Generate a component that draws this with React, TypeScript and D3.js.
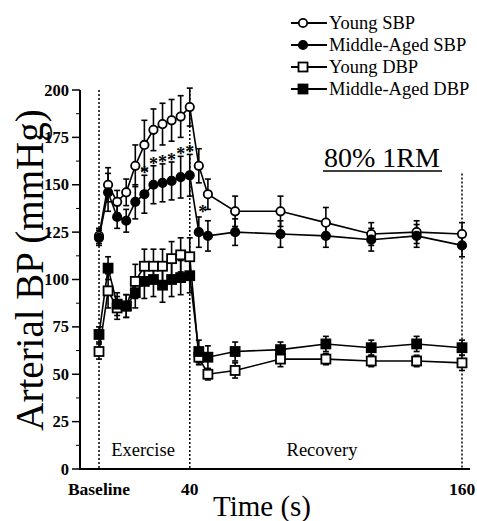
import React from "react";
import * as d3 from "d3";

const times = [0, 4, 8, 12, 16, 20, 24, 28, 32, 36, 40, 44, 48, 60, 80, 100, 120, 140, 160];

const youngSBP = [123, 150, 141, 146, 160, 171, 179, 182, 184, 186, 191, 160, 145, 136, 136, 130, 124, 125, 124];
const youngSBPErr = [4, 9, 6, 7, 11, 13, 11, 11, 11, 11, 10, 9, 8, 8, 8, 8, 6, 6, 6];

const midSBP = [122, 146, 133, 131, 141, 145, 150, 151, 152, 154, 155, 125, 123, 125, 124, 123, 121, 123, 118];
const midSBPErr = [4, 10, 6, 6, 9, 10, 10, 10, 10, 11, 11, 8, 8, 7, 7, 6, 6, 6, 6];

const youngDBP = [62, 94, 85, 86, 99, 107, 107, 107, 111, 113, 112, 59, 50, 52, 58, 58, 57, 57, 56];
const youngDBPErr = [4, 9, 6, 6, 9, 9, 9, 9, 9, 9, 10, 4, 3, 4, 4, 3, 3, 3, 4];

const midDBP = [71, 106, 87, 86, 93, 99, 100, 97, 100, 101, 102, 62, 59, 62, 63, 66, 64, 66, 64];
const midDBPErr = [4, 6, 6, 6, 8, 9, 9, 9, 9, 9, 9, 6, 6, 5, 4, 4, 4, 4, 4];

const starTimes = [20, 24, 28, 32, 36, 40, 44];

const yTicks = [0, 25, 50, 75, 100, 125, 150, 175, 200];
const legendLabels = ["Young SBP", "Middle-Aged SBP", "Young DBP", "Middle-Aged DBP"];

const FONT = "'Liberation Serif', 'Times New Roman', serif";

export default function App() {
  const W = 477, H = 521;
  const x = d3.scaleLinear().domain([0, 160]).range([99, 462]);
  const y = d3.scaleLinear().domain([0, 200]).range([469, 90]);
  const line = d3.line<number>().x((_, i) => x(times[i])).y((v) => y(v));

  const series = [
    { vals: youngSBP, err: youngSBPErr, shape: "circle", fill: "white" },
    { vals: midSBP, err: midSBPErr, shape: "circle", fill: "black" },
    { vals: youngDBP, err: youngDBPErr, shape: "square", fill: "white" },
    { vals: midDBP, err: midDBPErr, shape: "square", fill: "black" },
  ];

  const marker = (shape: string, fill: string, cx: number, cy: number, key: string) =>
    shape === "circle" ? (
      <circle key={key} cx={cx} cy={cy} r={4.2} fill={fill} stroke="black" strokeWidth={1.8} />
    ) : (
      <rect key={key} x={cx - 4.5} y={cy - 4.5} width={9} height={9} fill={fill} stroke="black" strokeWidth={1.8} />
    );

  const minorY = d3.range(0, 200, 12.5).filter((v) => v % 25 !== 0);

  return (
    <svg width={W} height={H} style={{ display: "block", position: "absolute", left: 0, top: 0, background: "white" }} fontFamily={FONT}>
      <rect width={W} height={H} fill="white" />
      {/* dotted phase lines */}
      <line x1={x(0)} x2={x(0)} y1={y(200)} y2={y(0)} stroke="black" strokeWidth={1.5} strokeDasharray="2,2" />
      <line x1={x(40)} x2={x(40)} y1={y(200)} y2={y(0)} stroke="black" strokeWidth={1.5} strokeDasharray="2,2" />
      <line x1={x(160)} x2={x(160)} y1={y(156)} y2={y(0)} stroke="black" strokeWidth={1.5} strokeDasharray="2,2" />

      {/* axes */}
      <line x1={80} x2={80} y1={y(200)} y2={y(0)} stroke="black" strokeWidth={2} />
      <line x1={79} x2={470} y1={y(0)} y2={y(0)} stroke="black" strokeWidth={2} />
      {yTicks.map((t) => (
        <g key={t}>
          <line x1={72} x2={80} y1={y(t)} y2={y(t)} stroke="black" strokeWidth={1.5} />
          <text x={69} y={y(t) + 5.5} textAnchor="end" fontSize={16.5} fontWeight="bold">{t}</text>
        </g>
      ))}
      {minorY.map((t) => (
        <line key={"m" + t} x1={76} x2={80} y1={y(t)} y2={y(t)} stroke="black" strokeWidth={1} />
      ))}

      {/* x labels */}
      <text x={x(0)} y={495} textAnchor="middle" fontSize={17.5} fontWeight="bold">Baseline</text>
      <text x={x(40)} y={495} textAnchor="middle" fontSize={17.5} fontWeight="bold">40</text>
      <text x={x(160)} y={495} textAnchor="middle" fontSize={17.5} fontWeight="bold">160</text>
      <text x={262} y={516} textAnchor="middle" fontSize={29}>Time (s)</text>
      <text transform={`translate(43,270) rotate(-90)`} textAnchor="middle" fontSize={39}>Arterial BP (mmHg)</text>

      <text x={143} y={456} textAnchor="middle" fontSize={18.5}>Exercise</text>
      <text x={322} y={456} textAnchor="middle" fontSize={18.5}>Recovery</text>

      <text x={382} y={167} textAnchor="middle" fontSize={28}>80% 1RM</text>
      <line x1={323} x2={442} y1={171} y2={171} stroke="black" strokeWidth={1.5} />

      {/* error bars */}
      {series.map((s, si) =>
        s.vals.map((v, i) => {
          const cx = x(times[i]);
          const top = y(v + s.err[i]);
          const bot = y(v - s.err[i]);
          return (
            <g key={`e${si}-${i}`} stroke="black" strokeWidth={1.6}>
              <line x1={cx} x2={cx} y1={top} y2={bot} />
              <line x1={cx - 3} x2={cx + 3} y1={top} y2={top} />
              <line x1={cx - 3} x2={cx + 3} y1={bot} y2={bot} />
            </g>
          );
        })
      )}

      {/* lines */}
      {series.map((s, si) => (
        <path key={`l${si}`} d={line(s.vals) || ""} fill="none" stroke="black" strokeWidth={1.6} />
      ))}

      {/* markers */}
      {series.map((s, si) => s.vals.map((v, i) => marker(s.shape, s.fill, x(times[i]), y(v), `p${si}-${i}`)))}

      {/* significance stars */}
      {starTimes.map((t) => {
        const i = times.indexOf(t);
        const yy = t === 44 ? y(midSBP[i]) - 22 : y(midSBP[i] + midSBPErr[i]) - 4;
        return (
          <text key={"s" + t} x={x(t) + (t === 44 ? 4 : 0)} y={yy + 8} textAnchor="middle" fontSize={18} fontWeight="bold">*</text>
        );
      })}

      {/* legend */}
      {legendLabels.map((lab, i) => {
        const ly = 23 + i * 22;
        const s = series[i];
        return (
          <g key={lab}>
            <line x1={291} x2={327} y1={ly} y2={ly} stroke="black" strokeWidth={2} />
            {marker(s.shape, s.fill, 303, ly, "lg" + i)}
            <text x={329} y={ly + 6} fontSize={18.5}>{lab}</text>
          </g>
        );
      })}
    </svg>
  );
}
